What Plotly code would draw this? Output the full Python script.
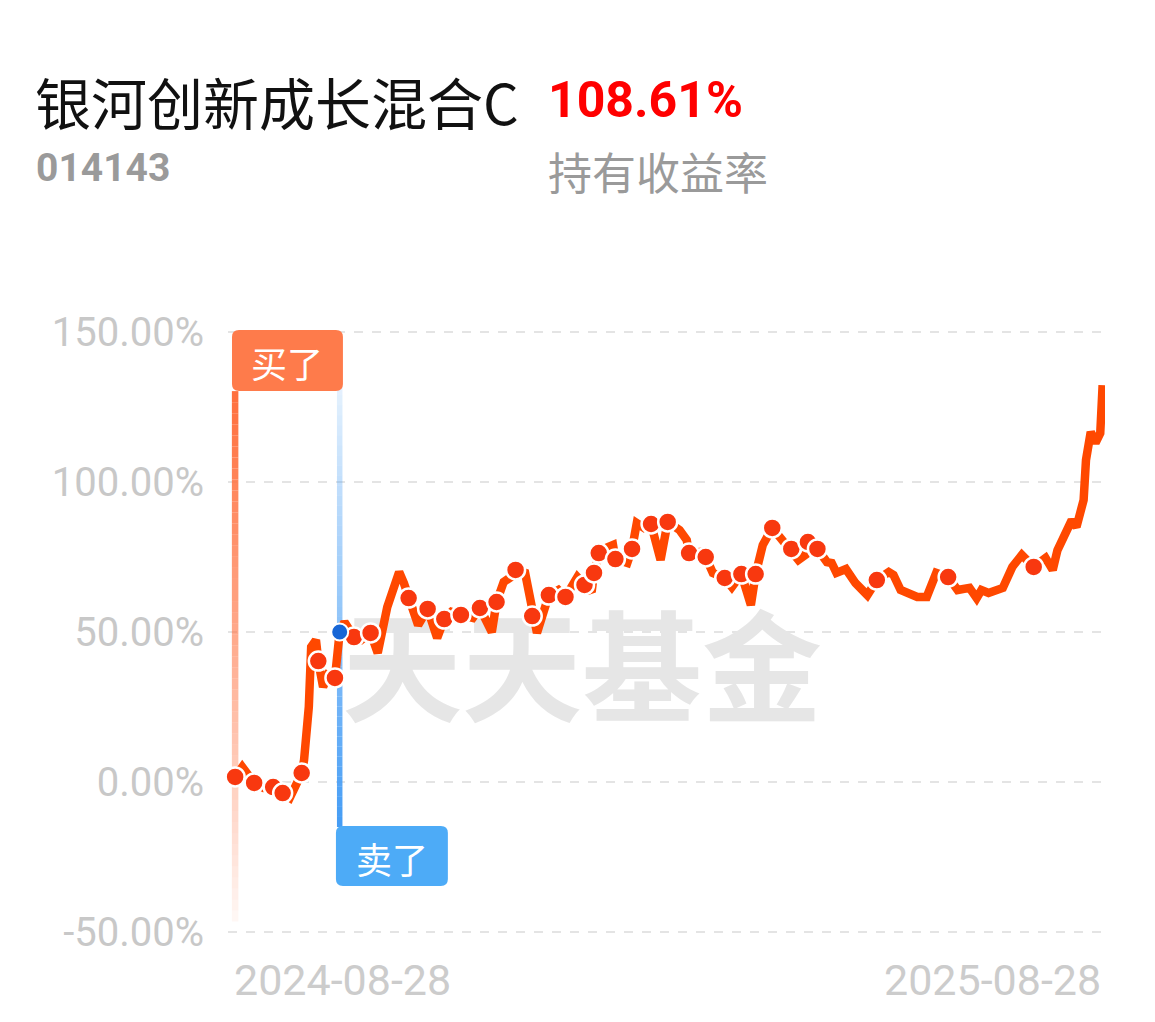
import pandas as pd
import plotly.graph_objects as go

# ---------------- data ----------------
fund_name = "银河创新成长混合C"
fund_code = "014143"
hold_return = "108.61%"
return_label = "持有收益率"
start_date = "2024-08-28"
x_tick_labels = ["2024-08-28", "2025-08-28"]
y_ticks = [-50, 0, 50, 100, 150]
watermark = "天天基金"
buy_label = "买了"
sell_label = "卖了"
buy_day = 0
sell_day = 44

day_offsets = [0, 3, 8, 12, 16, 20, 23, 25, 28, 29, 31, 32, 34, 35, 37, 39, 42, 44, 46, 50,
               53, 57, 60, 64, 69, 71, 73, 77, 81, 85, 88, 91, 95, 100, 103, 108, 110, 113, 116, 118,
               122, 125, 127, 132, 136, 139, 144, 147, 150, 151, 153, 156, 159, 160, 165, 167, 169, 172, 175, 179,
               182, 187, 190, 191, 196, 198, 201, 206, 209, 213, 217, 219, 222, 226, 229, 234, 237, 240, 241, 245,
               249, 251, 253, 257, 261, 266, 270, 275, 277, 280, 284, 287, 291, 295, 300, 304, 309, 312, 314, 317,
               323, 327, 331, 336, 341, 344, 346, 350, 352, 354, 356, 357, 358, 360, 362, 364, 365]
return_pct = [1.7, 5.0, -0.3, -2.0, -1.7, -3.7, -5.3, -2.0, 3.0, 7.3, 25.0, 45.0, 47.3, 40.3, 31.7, 35.7, 34.7, 50.0, 53.3, 48.3,
              47.3, 49.7, 43.0, 58.3, 70.0, 66.3, 61.3, 52.3, 57.7, 48.0, 54.3, 56.7, 55.7, 54.7, 58.0, 50.0, 60.0, 66.7, 68.3, 70.7,
              69.7, 55.3, 49.7, 62.3, 64.0, 61.7, 68.3, 65.7, 63.3, 69.7, 76.3, 78.0, 79.0, 74.3, 73.0, 77.7, 86.3, 84.7, 86.0, 74.0,
              86.7, 84.0, 80.7, 76.3, 76.7, 75.0, 69.7, 68.0, 65.0, 69.3, 59.0, 69.3, 79.0, 84.7, 81.7, 77.7, 74.0, 75.7, 80.0, 77.7,
              73.3, 73.0, 69.7, 71.0, 66.3, 62.3, 67.3, 70.0, 69.0, 64.0, 63.0, 61.7, 61.7, 69.7, 68.3, 64.0, 64.7, 61.3, 64.0, 63.0,
              64.7, 71.7, 75.7, 71.7, 74.7, 70.7, 77.3, 83.0, 87.3, 85.0, 93.0, 94.0, 107.3, 116.7, 113.0, 116.3, 132.3]
dot_days = [0, 8, 16, 20, 28, 35, 42, 50, 57, 73, 81, 88, 95, 103, 110, 118, 125, 132, 139, 147,
            151, 153, 160, 167, 175, 182, 191, 198, 206, 213, 219, 226, 234, 241, 245, 270, 300, 336]

# ---------------- derived ----------------
t0 = pd.Timestamp(start_date)
dates = [t0 + pd.Timedelta(days=d) for d in day_offsets]
val_by_day = dict(zip(day_offsets, return_pct))
dot_dates = [t0 + pd.Timedelta(days=d) for d in dot_days]
dot_vals = [val_by_day[d] for d in dot_days]
buy_date = t0 + pd.Timedelta(days=buy_day)
sell_date = t0 + pd.Timedelta(days=sell_day)

# page body has an 8px margin: figure pixel = screen pixel - OFF
OFF = 8
W, H = 1147, 1006
ML, MR, MT, MB = 220, 49.5, 318, 76
PW, PH = W - ML - MR, H - MT - MB


def px(x):
    return (x - OFF - ML) / PW


def py(y):
    return (H - MB - (y - OFF)) / PH


def rounded_rect(x0, y0, x1, y1, r):
    a, b, c, d = px(x0), px(x1), py(y0), py(y1)  # c top, d bottom
    rx, ry = r / PW, r / PH
    return (f"M {a+rx},{c} L {b-rx},{c} Q {b},{c} {b},{c-ry} L {b},{d+ry} Q {b},{d} {b-rx},{d} "
            f"L {a+rx},{d} Q {a},{d} {a},{d+ry} L {a},{c-ry} Q {a},{c} {a+rx},{c} Z")


fig = go.Figure()

# watermark (behind the line)
fig.add_trace(go.Scatter(
    x=[t0 + pd.Timedelta(days=146)], y=[33], mode="text", text=[watermark],
    textfont=dict(family="Noto Sans CJK SC", size=120, color="#e6e6e6", weight="bold"),
    textposition="middle center", hoverinfo="skip", showlegend=False))

# main line
fig.add_trace(go.Scatter(
    x=dates, y=return_pct, mode="lines",
    line=dict(color="#ff4800", width=8.5), hoverinfo="skip", showlegend=False))

# dots
fig.add_trace(go.Scatter(
    x=dot_dates, y=dot_vals, mode="markers",
    marker=dict(size=19, color="#f8380f", line=dict(color="white", width=2.5)),
    hoverinfo="skip", showlegend=False, cliponaxis=False))

# sell point
fig.add_trace(go.Scatter(
    x=[sell_date], y=[val_by_day[sell_day]], mode="markers",
    marker=dict(size=17, color="#1766d6", line=dict(color="white", width=2)),
    hoverinfo="skip", showlegend=False, cliponaxis=False))

shapes = []
n = 48
# gradient buy line (orange, fading downward)
b_top, b_bot = 130.3, -46.5
for i in range(n):
    ya = b_top + (b_bot - b_top) * i / n
    yb = b_top + (b_bot - b_top) * (i + 1) / n
    a = 0.97 * (1 - i / n) ** 0.9 + 0.03
    shapes.append(dict(type="line", xref="x", yref="y", x0=buy_date, x1=buy_date, y0=ya, y1=yb,
                       line=dict(color=f"rgba(255,112,62,{a:.3f})", width=6.5), layer="between"))
# gradient sell line (blue, strengthening downward)
s_top, s_bot = 145.7, -15.0
for i in range(n):
    ya = s_top + (s_bot - s_top) * i / n
    yb = s_top + (s_bot - s_top) * (i + 1) / n
    a = 0.05 + 0.93 * (i + 1) / n
    shapes.append(dict(type="line", xref="x", yref="y", x0=sell_date, x1=sell_date, y0=ya, y1=yb,
                       line=dict(color=f"rgba(66,155,245,{a:.3f})", width=5.5), layer="between"))

# label boxes
shapes.append(dict(type="path", xref="paper", yref="paper", path=rounded_rect(232, 330, 343, 391, 7),
                   fillcolor="#fe7b4b", line=dict(width=0), layer="above"))
shapes.append(dict(type="path", xref="paper", yref="paper", path=rounded_rect(336, 826, 448, 886, 7),
                   fillcolor="#4dabf7", line=dict(width=0), layer="above"))

annotations = []


def ann(text, x, y, size, color, family, xanchor="left", weight="normal"):
    annotations.append(dict(text=text, x=px(x), y=py(y), xref="paper", yref="paper",
                            xanchor=xanchor, yanchor="middle", showarrow=False,
                            font=dict(size=size, color=color, family=family, weight=weight)))


ann(fund_name, 33, 100, 56, "#111111", "Noto Sans CJK SC")
ann(hold_return, 546, 100, 50, "#ff0000", "Roboto", weight="bold")
ann(fund_code, 34, 168, 39, "#9a9a9a", "Roboto", weight="bold")
ann(return_label, 546, 171, 44, "#9a9a9a", "Noto Sans CJK SC")
ann(buy_label, 287.5, 362, 36, "white", "Noto Sans CJK SC", xanchor="center")
ann(sell_label, 392, 858, 36, "white", "Noto Sans CJK SC", xanchor="center")
ann(x_tick_labels[0], 232, 980, 43, "#cccccc", "Roboto")
ann(x_tick_labels[1], 1103, 980, 43, "#cccccc", "Roboto", xanchor="right")

fig.update_layout(
    width=W, height=H, margin=dict(l=ML, r=MR, t=MT, b=MB),
    paper_bgcolor="white", plot_bgcolor="white",
    hovermode=False, showlegend=False,
    shapes=shapes, annotations=annotations,
    xaxis=dict(range=[t0 - pd.Timedelta(days=3), t0 + pd.Timedelta(days=366)],
               showgrid=False, zeroline=False, showline=False, showticklabels=False, ticks=""),
    yaxis=dict(range=[-52, 152], tickvals=y_ticks, ticktext=[f"{v:.2f}%" for v in y_ticks],
               showgrid=True, gridcolor="#e4e4e4", gridwidth=2, griddash="dash",
               zeroline=False, showline=False, ticks="", ticklabelstandoff=23,
               tickfont=dict(family="Roboto", size=40, color="#c8c8c8")),
)

fig.write_html("out.html")
